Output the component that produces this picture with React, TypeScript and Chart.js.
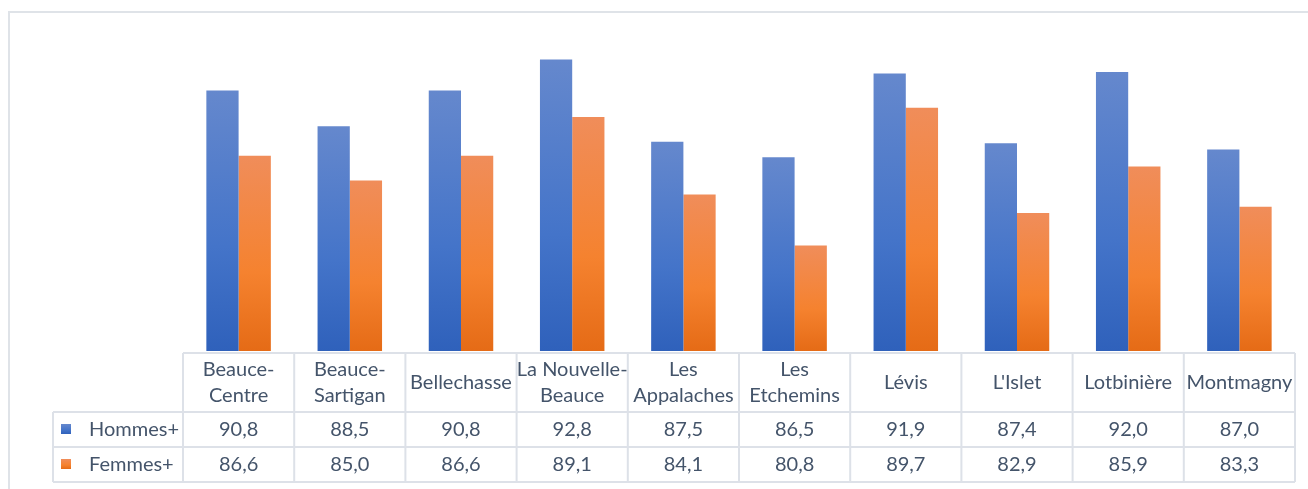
import React, { useEffect, useRef } from "react";
import { Chart, registerables } from "chart.js";

Chart.register(...registerables);

const categories = [
  "Beauce-Centre",
  "Beauce-Sartigan",
  "Bellechasse",
  "La Nouvelle-Beauce",
  "Les Appalaches",
  "Les Etchemins",
  "Lévis",
  "L'Islet",
  "Lotbinière",
  "Montmagny",
];
const headerLines = [
  ["Beauce-", "Centre"],
  ["Beauce-", "Sartigan"],
  ["Bellechasse"],
  ["La Nouvelle-", "Beauce"],
  ["Les", "Appalaches"],
  ["Les", "Etchemins"],
  ["Lévis"],
  ["L'Islet"],
  ["Lotbinière"],
  ["Montmagny"],
];
const hommes = [90.8, 88.5, 90.8, 92.8, 87.5, 86.5, 91.9, 87.4, 92.0, 87.0];
const femmes = [86.6, 85.0, 86.6, 89.1, 84.1, 80.8, 89.7, 82.9, 85.9, 83.3];
const seriesNames = ["Hommes+", "Femmes+"];

const TEXT = "#44546A";
const GRID = "#dde1e8";
const FONT = "Lato";

const blueStops = ["#6588cd", "#4474c9", "#2f61bb"];
const orangeStops = ["#f08d5a", "#f5822f", "#e56b16"];

function grad(ctx: CanvasRenderingContext2D, y0: number, y1: number, stops: string[]) {
  const g = ctx.createLinearGradient(0, y0, 0, y1);
  g.addColorStop(0, stops[0]);
  g.addColorStop(0.6, stops[1]);
  g.addColorStop(1, stops[2]);
  return g;
}

function barFill(stops: string[]) {
  return (c: any) => {
    const chart = c.chart;
    const area = chart.chartArea;
    if (!area || c.parsed == null) return stops[1];
    const top = chart.scales.y.getPixelForValue(c.parsed.y);
    return grad(chart.ctx, top, area.bottom, stops);
  };
}

const fmt = (v: number) => v.toFixed(1).replace(".", ",");

const tablePlugin = {
  id: "dataTable",
  beforeDraw(chart: any) {
    const ctx = chart.ctx as CanvasRenderingContext2D;
    ctx.save();
    ctx.strokeStyle = "#dfe3e8";
    ctx.lineWidth = 2;
    ctx.strokeRect(9, 12, 1400, 600);
    ctx.restore();
  },
  afterDraw(chart: any) {
    const ctx = chart.ctx as CanvasRenderingContext2D;
    const area = chart.chartArea;
    const xs = chart.scales.x;
    const n = categories.length;
    const colW = (area.right - area.left) / n;
    const top = area.bottom + 2;
    const hdrBottom = top + 59;
    const r1Bottom = hdrBottom + 35;
    const r2Bottom = r1Bottom + 35;
    const legendLeft = 53;

    ctx.save();
    ctx.strokeStyle = GRID;
    ctx.lineWidth = 2;
    ctx.beginPath();
    ctx.moveTo(area.left, top);
    ctx.lineTo(area.right, top);
    [hdrBottom, r1Bottom, r2Bottom].forEach((y) => {
      ctx.moveTo(legendLeft, y);
      ctx.lineTo(area.right, y);
    });
    for (let i = 0; i <= n; i++) {
      const bx = i < n ? xs.getPixelForValue(i) - colW / 2 : xs.getPixelForValue(n - 1) + colW / 2;
      ctx.moveTo(bx, top);
      ctx.lineTo(bx, r2Bottom);
    }
    ctx.moveTo(legendLeft, hdrBottom);
    ctx.lineTo(legendLeft, r2Bottom);
    ctx.stroke();

    ctx.fillStyle = TEXT;
    ctx.font = `20px ${FONT}`;
    ctx.textAlign = "center";
    ctx.textBaseline = "alphabetic";
    for (let i = 0; i < n; i++) {
      const cx = xs.getPixelForValue(i);
      const lines = headerLines[i];
      if (lines.length === 2) {
        ctx.fillText(lines[0], cx, top + 23);
        ctx.fillText(lines[1], cx, top + 49);
      } else {
        ctx.fillText(lines[0], cx, top + 36);
      }
      ctx.fillText(fmt(hommes[i]), cx, hdrBottom + 24);
      ctx.fillText(fmt(femmes[i]), cx, r1Bottom + 24);
    }

    ctx.textAlign = "left";
    const rows = [
      { y: hdrBottom, stops: blueStops, name: seriesNames[0] },
      { y: r1Bottom, stops: orangeStops, name: seriesNames[1] },
    ];
    rows.forEach((r) => {
      ctx.fillStyle = grad(ctx, r.y + 12, r.y + 22, r.stops);
      ctx.fillRect(61, r.y + 12, 10, 10);
      ctx.fillStyle = TEXT;
      ctx.fillText(r.name, 89, r.y + 24);
    });
    ctx.restore();
  },
};

export default function App() {
  const ref = useRef<HTMLCanvasElement | null>(null);
  useEffect(() => {
    if (!ref.current) return;
    const chart = new Chart(ref.current, {
      type: "bar",
      data: {
        labels: categories,
        datasets: [
          {
            label: seriesNames[0],
            data: hommes,
            backgroundColor: barFill(blueStops),
            borderWidth: 0,
            categoryPercentage: 0.58,
            barPercentage: 1.0,
          },
          {
            label: seriesNames[1],
            data: femmes,
            backgroundColor: barFill(orangeStops),
            borderWidth: 0,
            categoryPercentage: 0.58,
            barPercentage: 1.0,
          },
        ],
      },
      options: {
        responsive: false,
        animation: false,
        devicePixelRatio: 1,
        layout: { padding: { left: 183, right: 13, top: 41, bottom: 138 } },
        plugins: { legend: { display: false }, tooltip: { enabled: false } },
        scales: {
          x: { display: false, offset: true, grid: { display: false } },
          y: { display: false, min: 74, max: 94 },
        },
      },
      plugins: [tablePlugin],
    });
    return () => chart.destroy();
  }, []);
  return (
    <div style={{ position: "fixed", left: 0, top: 0, width: 1308, height: 489, background: "#fff" }}>
      <canvas ref={ref} width={1308} height={489} style={{ display: "block" }} />
    </div>
  );
}
